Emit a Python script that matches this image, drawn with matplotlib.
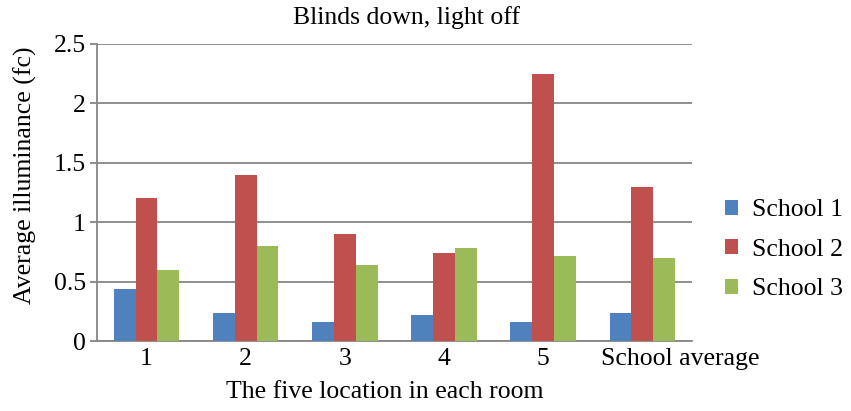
import numpy as np
import matplotlib.pyplot as plt
from matplotlib.patches import Patch
from matplotlib.transforms import ScaledTranslation


locations = ["1", "2", "3", "4", "5", "School average"]
school_1 = [0.44, 0.24, 0.16, 0.22, 0.16, 0.24]
school_2 = [1.20, 1.40, 0.90, 0.74, 2.25, 1.30]
school_3 = [0.60, 0.80, 0.64, 0.78, 0.72, 0.70]
series_names = ["School 1", "School 2", "School 3"]
colors = ["#4F81BD", "#C0504D", "#9BBB59"]


plt.rcParams["font.family"] = ["Liberation Serif", "DejaVu Serif"]
grey = "#868686"
fs = 18.5

fig = plt.figure(figsize=(8.51, 4.11), dpi=100)
ax = fig.add_axes([0.114, 0.170, 0.699, 0.723])

x = np.arange(len(locations))
width = 0.22

for i, vals in enumerate([school_1, school_2, school_3]):
    ax.bar(
        x + (i - 1) * width,
        vals,
        width=width,
        color=colors[i],
        zorder=3
    )

ax.set_xlim(-0.5, len(locations) - 0.5)
ax.set_ylim(0, 2.5)
ax.set_yticks(np.arange(0, 2.51, 0.5))
ax.set_yticklabels(["0", "0.5", "1", "1.5", "2", "2.5"])

ax.set_xticks(x)
ax.set_xticklabels(locations)

ax.yaxis.grid(True, color=grey, linewidth=1.3, zorder=0)
ax.set_axisbelow(True)

for side in ["top", "right"]:
    ax.spines[side].set_visible(False)
for side in ["left", "bottom"]:
    ax.spines[side].set_color(grey)
    ax.spines[side].set_linewidth(1.3)

ax.tick_params(axis="y", length=5, color=grey, width=1.3,
               labelsize=fs, pad=3)
ax.tick_params(axis="x", length=0, labelsize=fs, pad=5)

# long last label sits a bit to the right of its slot
last = ax.get_xticklabels()[-1]
last.set_transform(
    last.get_transform() + ScaledTranslation(0.38, 0, fig.dpi_scale_trans)
)

# titles placed in figure coordinates
fig.text(0.478, 0.957, "Blinds down, light off",
         ha="center", va="center", fontsize=fs)
fig.text(0.452, 0.047, "The five location in each room",
         ha="center", va="center", fontsize=fs)
fig.text(0.030, 0.573, "Average illuminance (fc)",
         ha="center", va="center", rotation=90, fontsize=fs)

handles = [Patch(facecolor=c) for c in colors]
fig.legend(
    handles,
    series_names,
    loc="center left",
    bbox_to_anchor=(0.852, 0.392),
    frameon=False,
    fontsize=fs,
    borderpad=0,
    borderaxespad=0,
    handlelength=0.5,
    handleheight=0.5,
    handletextpad=0.55,
    labelspacing=0.68
)

fig.savefig("out.png", dpi=100)
